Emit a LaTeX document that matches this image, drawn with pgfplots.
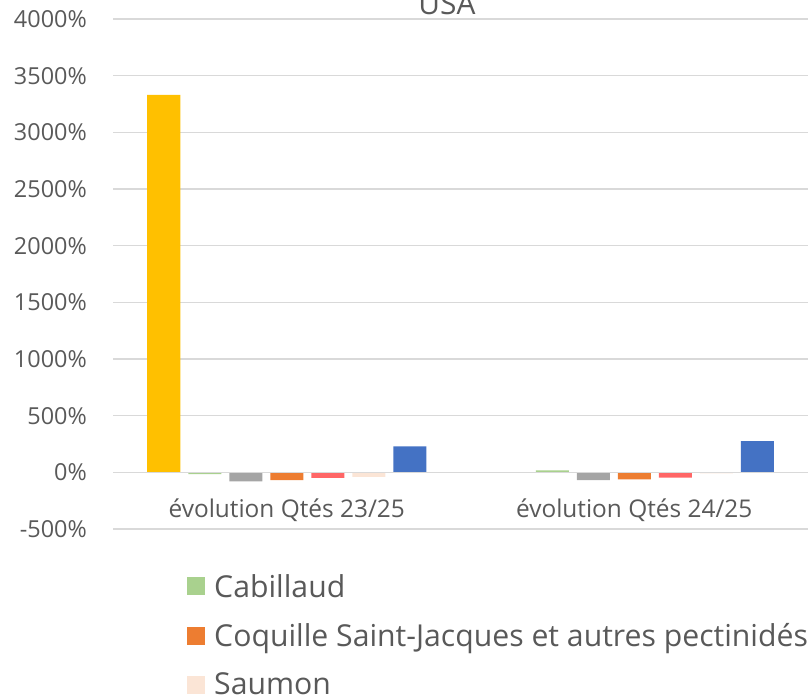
\documentclass[border=0pt]{standalone}
\usepackage{fontspec}
\setmainfont{Open Sans}
\usepackage{pgfplots}
\pgfplotsset{compat=1.18}
\definecolor{txt}{HTML}{595959}
\definecolor{gridc}{HTML}{D9D9D9}
\definecolor{cYel}{HTML}{FFC000}
\definecolor{cGre}{HTML}{A9D18E}
\definecolor{cGra}{HTML}{A5A5A5}
\definecolor{cOra}{HTML}{ED7D31}
\definecolor{cRed}{HTML}{FF6666}
\definecolor{cPea}{HTML}{FBE5D6}
\definecolor{cBlu}{HTML}{4472C4}
\begin{document}
\begin{tikzpicture}
\begin{axis}[
  at={(113bp,168bp)}, anchor=south west,
  scale only axis, width=695bp, height=510bp,
  ymin=-500, ymax=4000, ytick={-500,0,500,...,4000},
  xmin=-0.5, xmax=1.5, xtick={0,1},
  xticklabels={évolution Qtés 23/25, évolution Qtés 24/25},
  ybar, bar width=33bp,
  axis line style={draw=none}, major tick length=0pt,
  ymajorgrids, grid style={color=gridc, line width=1.3bp},
  /pgf/number format/assume math mode=true,
  /pgf/number format/1000 sep={},
  yticklabel={\pgfmathprintnumber{\tick}\%},
  yticklabel style={font=\fontsize{23.5}{23.5}\selectfont, color=txt, anchor=east, inner sep=0pt, xshift=-26bp},
  xticklabel style={font=\fontsize{24.5}{24.5}\selectfont, color=txt, anchor=base, inner sep=0pt, yshift=12bp},
  legend style={at={(0.1065,-0.088)}, anchor=north west, draw=none, fill=none,
    font=\fontsize{30.3}{30.3}\selectfont, text=txt, row sep=25bp, inner sep=0pt,
    nodes={inner sep=0pt, outer sep=0pt},
    /tikz/every odd column/.append style={column sep=9bp}},
  legend cell align=left,
  legend image code/.code={\fill[#1] (0bp,-9bp) rectangle (18bp,9bp);},
  every axis plot/.append style={draw=none},
]
\addplot[fill=cYel, bar shift=-123bp, forget plot] coordinates {(0,3330) (1,0)};
\addplot[fill=cGre, bar shift=-82bp] coordinates {(0,-15) (1,18)};
\addlegendentry{Cabillaud}
\addplot[fill=cGra, bar shift=-41bp, forget plot] coordinates {(0,-80) (1,-68)};
\addplot[fill=cOra, bar shift=0bp] coordinates {(0,-68) (1,-62)};
\addlegendentry{Coquille Saint-Jacques et autres pectinidés}
\addplot[fill=cRed, bar shift=41bp, forget plot] coordinates {(0,-50) (1,-47)};
\addplot[fill=cPea, bar shift=82bp] coordinates {(0,-41) (1,-10)};
\addlegendentry{Saumon}
\addplot[fill=cBlu, bar shift=123bp, forget plot] coordinates {(0,230) (1,275)};
\draw[gridc, line width=1.6bp] (axis cs:-0.5,0) -- (axis cs:1.5,0);
\end{axis}
\node[anchor=base, font=\fontsize{30}{30}\selectfont, text=txt] at (447bp,682bp) {USA};
\pgfresetboundingbox
\path[use as bounding box] (0,0) rectangle (808bp,697bp);
\end{tikzpicture}
\end{document}
